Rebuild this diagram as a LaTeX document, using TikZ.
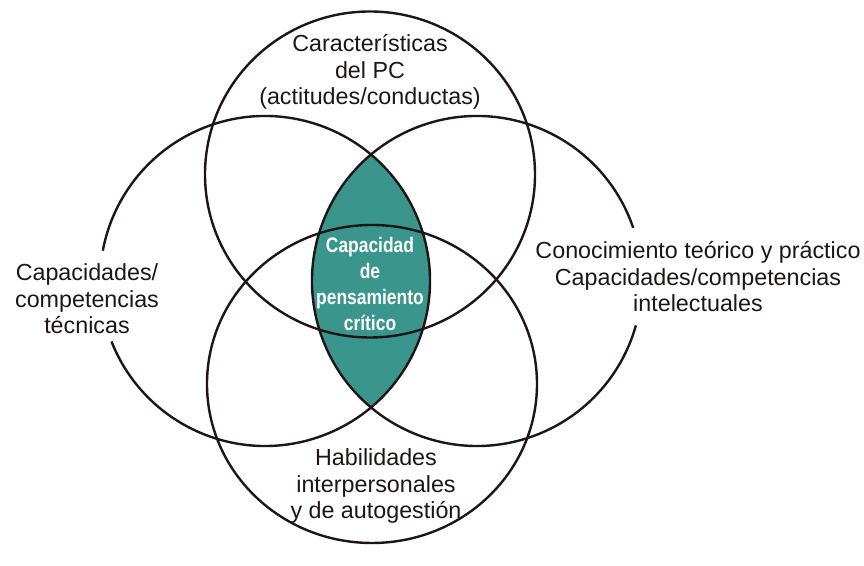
\documentclass[tikz,border=0pt]{standalone}
\usepackage{fontspec}
\setmainfont{Liberation Sans}
\newfontfamily\condbold{Liberation Sans}[FakeStretch=0.83]
\usetikzlibrary{calc}
\definecolor{ink}{RGB}{30,22,22}
\definecolor{lensfill}{RGB}{58,150,140}
\begin{document}
\begin{tikzpicture}[x=0.5pt,y=0.5pt,
  ring/.style={draw=ink, line width=1.2pt},
  label/.style={align=center, text=ink, inner sep=0pt,
    font=\fontsize{11.65}{13.25}\selectfont},
  core/.style={align=center, text=white, inner sep=0pt,
    font=\condbold\bfseries\fontsize{10.5}{13}\selectfont}]
\useasboundingbox[fill=white] (0,0) rectangle (864,566);

% centres of the four sets
\coordinate (T) at (370,391.5);
\coordinate (B) at (372,182);
\coordinate (L) at (265,285);
\coordinate (R) at (477,285);

% shaded lens shared by the left and right sets
\begin{scope}
  \clip (L) circle[radius=165];
  \fill[lensfill] (R) circle[radius=165];
\end{scope}

% outlines
\draw[ring] (T) ellipse[x radius=165, y radius=163];
\draw[ring] (B) ellipse[x radius=165, y radius=159];
\draw[ring] ($(L)+(201.5:165)$) arc[start angle=201.5, end angle=529.4, radius=165];
\draw[ring] ($(R)+(18.8:165)$) arc[start angle=18.8, end angle=344.4, radius=165];

% labels
\node[label] (top) at (370,494) {Características\\del PC\\(actitudes/conductas)};
\node[label] (left) at (87,267) {Capacidades/\\competencias\\técnicas};
\node[label] (right) at (698,289) {Conocimiento teórico y práctico\\Capacidades/competencias\\intelectuales};
\node[label] (bottom) at (376,80) {Habilidades\\interpersonales\\y de autogestión};
\node[core] (centre) at (370,282) {Capacidad\\de\\pensamiento\\crítico};
\end{tikzpicture}
\end{document}
